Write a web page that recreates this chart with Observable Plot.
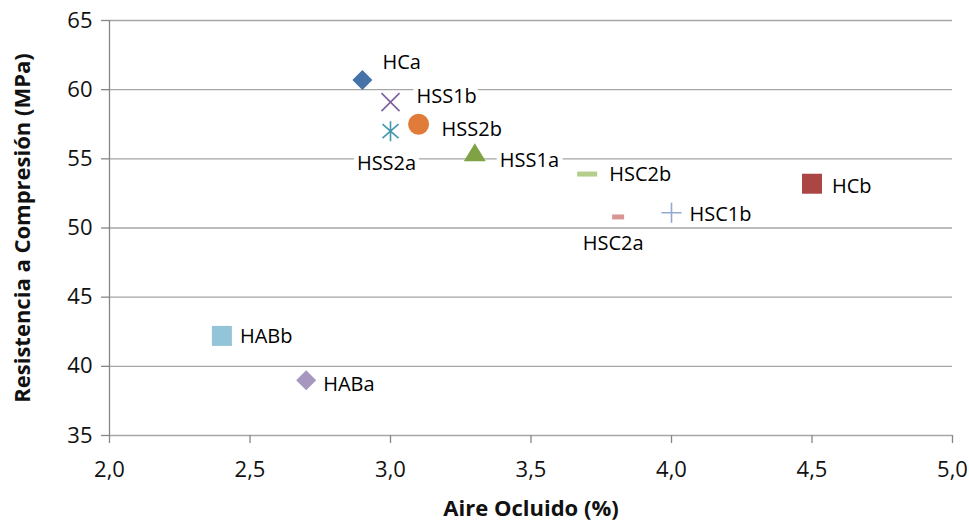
<!DOCTYPE html>
<html><head><meta charset="utf-8">
<script src="https://cdn.jsdelivr.net/npm/d3@7"></script>
<script src="https://cdn.jsdelivr.net/npm/@observablehq/plot@0.6"></script>
<style>body{margin:0;background:#fff;} svg{display:block;}</style>
</head><body><div id="chart"></div>
<script>
const names = ["HCa","HSS1b","HSS2b","HSS2a","HSS1a","HSC2b","HSC2a","HSC1b","HCb","HABb","HABa"];
const aire = [2.9, 3.0, 3.1, 3.0, 3.3, 3.7, 3.81, 4.0, 4.5, 2.4, 2.7];
const resistencia = [60.7, 59.1, 57.5, 57.0, 55.4, 53.9, 50.8, 51.1, 53.2, 42.2, 39.0];
const xTicks = [2.0, 2.5, 3.0, 3.5, 4.0, 4.5, 5.0];
const yTicks = [35, 40, 45, 50, 55, 60, 65];

// styles
const colors = ["#4572a7","#7d60a0","#e07b39","#4198af","#7fa245","#b3cf8a","#d99594","#94a9d1","#aa4643","#93c5d8","#a597c0"];
const shapes = ["diamond","times","circle","asterisk","triangle","dashLong","dashShort","plus","square","square","diamond"];
const labelStyle = {
  HCa:[20,-17,"start"], HSS1b:[26,-6,"start"], HSS2b:[23,5,"start"], HSS2a:[-4,32,"middle"],
  HSS1a:[25,7,"start"], HSC2b:[22,1,"start"], HSC2a:[-5,27,"middle"], HSC1b:[18,2,"start"],
  HCb:[20,3,"start"], HABb:[18,1,"start"], HABa:[17,4,"start"]
};
const filled = new Set(["diamond","circle","triangle","dashLong","dashShort","square"]);

const symbols = {
  diamond: {draw(c){c.moveTo(0,-10);c.lineTo(10,0);c.lineTo(0,10);c.lineTo(-10,0);c.closePath();}},
  square: {draw(c){c.rect(-10,-10,20,20);}},
  circle: {draw(c){c.moveTo(10.5,0);c.arc(0,0,10.5,0,2*Math.PI);}},
  triangle: {draw(c){c.moveTo(0,-10);c.lineTo(11,8);c.lineTo(-11,8);c.closePath();}},
  dashLong: {draw(c){c.rect(-10,-2.5,20,5);}},
  dashShort: {draw(c){c.rect(-6,-2.5,12,5);}},
  times: {draw(c){c.moveTo(-9,-9);c.lineTo(9,9);c.moveTo(9,-9);c.lineTo(-9,9);}},
  plus: {draw(c){c.moveTo(-10,0);c.lineTo(10,0);c.moveTo(0,-10);c.lineTo(0,10);}},
  asterisk: {draw(c){c.moveTo(0,-10);c.lineTo(0,10);c.moveTo(-8,-7);c.lineTo(8,7);c.moveTo(8,-7);c.lineTo(-8,7);}}
};

const rows = names.map((n,i)=>({name:n, x:aire[i], y:resistencia[i], color:colors[i], shape:shapes[i]}));
const fmt = d => d3.format(".1f")(d).replace(".", ",");
const font = "'Open Sans', 'Noto Sans', sans-serif";

const dotMarks = rows.map(r => Plot.dot([r], {
  x:"x", y:"y", r:6,
  symbol: symbols[r.shape],
  fill: filled.has(r.shape) ? r.color : "none",
  stroke: filled.has(r.shape) ? "none" : r.color,
  strokeWidth: 1.6
}));
const labelMarks = rows.map(r => { const s = labelStyle[r.name]; return Plot.text([r], {
  x:"x", y:"y", text:"name", dx:s[0], dy:s[1], textAnchor:s[2],
  fill:"#000", stroke:"white", strokeWidth:10, fontSize:20
});});

const chart = Plot.plot({
  width: 969, height: 524,
  marginLeft: 109, marginRight: 17, marginTop: 20, marginBottom: 89,
  style: {fontFamily: font, background:"white"},
  x: {domain:[2,5]},
  y: {domain:[35,65]},
  marks: [
    Plot.gridY(yTicks, {stroke:"#a6a6a6", strokeOpacity:1, strokeWidth:1.3}),
    Plot.ruleX([2], {y1:35, y2:65, stroke:"#868686", strokeWidth:1.3}),
    Plot.axisY(yTicks, {tickSize:8, stroke:"#868686", strokeWidth:1.3, tickPadding:9, fontSize:22, fill:"#111", label:null}),
    Plot.axisX(xTicks, {tickSize:8, stroke:"#868686", strokeWidth:1.3, tickPadding:18, fontSize:22, fill:"#111", tickFormat:fmt, label:null}),
    Plot.text(["Aire Ocluido (%)"], {frameAnchor:"bottom", dy:80, fontSize:22, fontWeight:"bold", fill:"#111"}),
    Plot.text(["Resistencia a Compresión (MPa)"], {frameAnchor:"left", textAnchor:"middle", dx:-87, rotate:-90, fontSize:22, fontWeight:"bold", fill:"#111"}),
    ...labelMarks,
    ...dotMarks
  ]
});
document.getElementById("chart").appendChild(chart);
</script>
</body></html>
